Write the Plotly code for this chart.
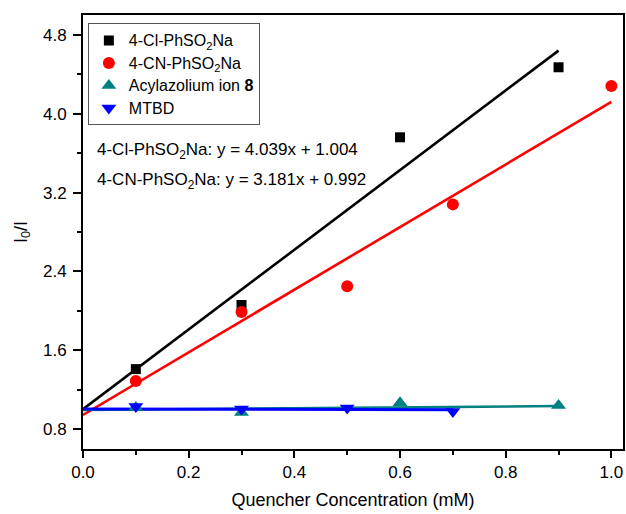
import plotly.graph_objects as go

# data
cl_x = [0.1, 0.3, 0.6, 0.9]
cl_y = [1.41, 2.06, 3.76, 4.47]
cn_x = [0.1, 0.3, 0.5, 0.7, 1.0]
cn_y = [1.29, 1.99, 2.25, 3.08, 4.28]
acyl_x = [0.1, 0.3, 0.6, 0.9]
acyl_y = [1.02, 0.97, 1.07, 1.04]
mtbd_x = [0.1, 0.3, 0.5, 0.7]
mtbd_y = [1.03, 1.005, 1.015, 0.98]

# drawn linear fits (slope, intercept, x-extent)
cl_fit = (4.039, 1.004, 0.9)
cn_fit = (3.175, 0.945, 1.0)
acyl_fit = (0.045, 0.995, 0.9)
mtbd_fit = (-0.01, 1.005, 0.7)

series_names = ["4-Cl-PhSO<sub>2</sub>Na", "4-CN-PhSO<sub>2</sub>Na",
                "Acylazolium ion <b>8</b>", "MTBD"]
eq_texts = ["4-Cl-PhSO<sub>2</sub>Na: y = 4.039x + 1.004",
            "4-CN-PhSO<sub>2</sub>Na: y = 3.181x + 0.992"]

x_ticks = [0, 0.2, 0.4, 0.6, 0.8, 1.0]
x_ticktext = ["0.0", "0.2", "0.4", "0.6", "0.8", "1.0"]
y_ticks = [0.8, 1.6, 2.4, 3.2, 4.0, 4.8]
y_ticktext = ["0.8", "1.6", "2.4", "3.2", "4.0", "4.8"]

FONT = "Liberation Sans, Arial, sans-serif"

fig = go.Figure()

def fit_line(fit, color, width):
    s, b, xe = fit
    xs = [0.0, xe]
    ys = [s * x + b for x in xs]
    return go.Scatter(x=xs, y=ys, mode="lines", line=dict(color=color, width=width),
                      showlegend=False, hoverinfo="skip")

def lname(n):
    return '<span style="font-size:16px">' + n + "</span>"

fig.add_trace(fit_line(cl_fit, "#000000", 2.6))
fig.add_trace(fit_line(cn_fit, "#FF0000", 2.6))
fig.add_trace(fit_line(acyl_fit, "#008080", 2.6))
fig.add_trace(fit_line(mtbd_fit, "#0000FF", 3))

fig.add_trace(go.Scatter(x=cl_x, y=cl_y, mode="markers", name=lname(series_names[0]),
                         marker=dict(symbol="square", size=10, color="#000000")))
fig.add_trace(go.Scatter(x=cn_x, y=cn_y, mode="markers", name=lname(series_names[1]),
                         marker=dict(symbol="circle", size=12, color="#FF0000")))
fig.add_trace(go.Scatter(x=acyl_x, y=acyl_y, mode="markers", name=lname(series_names[2]),
                         marker=dict(symbol="triangle-up", size=13, color="#008080")))
fig.add_trace(go.Scatter(x=mtbd_x, y=mtbd_y, mode="markers", name=lname(series_names[3]),
                         marker=dict(symbol="triangle-down", size=13, color="#0000FF")))

for txt, yv in zip(eq_texts, [3.62, 3.32]):
    fig.add_annotation(x=0.022, y=yv, xref="x", yref="y", xanchor="left", yanchor="middle",
                       text=txt, showarrow=False,
                       font=dict(family=FONT, size=17, color="#000000"))

axis_common = dict(showline=True, linecolor="#000000", linewidth=2, mirror=True,
                   ticks="outside", tickwidth=1.5, tickcolor="#000000",
                   showgrid=False, zeroline=False, automargin=False,
                   tickfont=dict(family=FONT, size=17, color="#000000"))

fig.update_xaxes(range=[0, 1.022], tickvals=x_ticks, ticktext=x_ticktext, ticklen=7,
                 ticklabelstandoff=0,
                 title=dict(text="Quencher Concentration (mM)", standoff=12,
                            font=dict(family=FONT, size=18, color="#000000")),
                 minor=dict(ticks="outside", ticklen=4, tickwidth=1.5, tickcolor="#000000",
                            tickvals=[0.1, 0.3, 0.5, 0.7, 0.9]),
                 **axis_common)
fig.update_yaxes(range=[0.6, 5.0], tickvals=y_ticks, ticktext=y_ticktext, ticklen=8,
                 ticklabelstandoff=3,
                 title=dict(text="I<sub>0</sub>/I", standoff=11,
                            font=dict(family=FONT, size=18, color="#000000")),
                 minor=dict(ticks="outside", ticklen=4, tickwidth=1.5, tickcolor="#000000",
                            tickvals=[1.2, 2.0, 2.8, 3.6, 4.4]),
                 **axis_common)

fig.update_layout(
    width=626, height=514,
    margin=dict(l=83, r=3, t=15, b=65),
    plot_bgcolor="white", paper_bgcolor="white",
    font=dict(family=FONT, size=17, color="#000000"),
    legend=dict(x=0.009, y=0.981, xanchor="left", yanchor="top",
                bgcolor="white", bordercolor="#555555", borderwidth=1,
                font=dict(family=FONT, size=15, color="#000000"),
                tracegroupgap=0, itemwidth=30),
)

# remove the page's default 8px body margin so the figure sits at the window origin
fig.write_html("out.html", config={"displayModeBar": False},
               post_script="document.body.style.margin='0';document.body.style.overflow='hidden';")
